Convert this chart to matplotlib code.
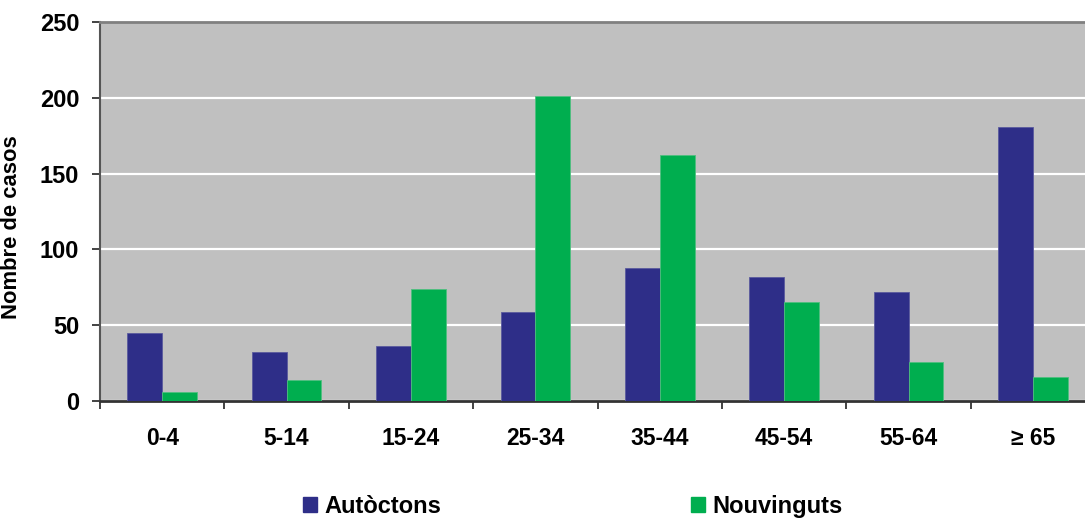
import numpy as np
import matplotlib.pyplot as plt
from matplotlib.patches import Patch

# Cases by age group
age_groups = ["0-4", "5-14", "15-24", "25-34", "35-44", "45-54", "55-64", "≥ 65"]
autoctons = [45, 32, 36, 59, 88, 82, 72, 181]
nouvinguts = [6, 14, 74, 201, 162, 65, 26, 16]

BLUE = "#2e2e88"
GREEN = "#00ae4f"
BG = "#c0c0c0"

plt.rcParams['font.family'] = ['Liberation Sans', 'DejaVu Sans']
plt.rcParams['font.weight'] = 'bold'

fig = plt.figure(figsize=(10.85, 5.19), dpi=100)
# axes runs slightly past the right edge of the figure
ax = fig.add_axes([0.0922, 0.2274, 0.9172, 0.7303])
ax.set_facecolor(BG)

x = np.arange(len(age_groups)) + 0.5
w = 0.28
ax.bar(x - w / 2, autoctons, width=w, color=BLUE, edgecolor="#5a5a9e", linewidth=0.6, zorder=3)
ax.bar(x + w / 2, nouvinguts, width=w, color=GREEN, edgecolor="#4fbf7f", linewidth=0.6, zorder=3)

ax.set_xlim(0, len(age_groups))
ax.set_ylim(0, 250)
ax.set_yticks([0, 50, 100, 150, 200, 250])
ax.yaxis.grid(True, color="white", linewidth=1.6, zorder=1)
ax.set_axisbelow(True)

# boundary ticks between groups, labels at group centres
ax.set_xticks(np.arange(0, len(age_groups) + 1))
ax.set_xticklabels([])
ax.set_xticks(x, minor=True)
ax.set_xticklabels(age_groups, minor=True)
ax.tick_params(axis='x', which='major', length=6, width=1.2, color="#222222")
ax.tick_params(axis='x', which='minor', length=0, pad=19, labelsize=16.5)
ax.tick_params(axis='y', length=6, width=1.2, color="#222222", pad=9, labelsize=17)

ax.spines['left'].set_color("#555555")
ax.spines['left'].set_linewidth(1.5)
ax.spines['bottom'].set_color("#333333")
ax.spines['bottom'].set_linewidth(2)
ax.spines['top'].set_color("#808080")
ax.spines['top'].set_linewidth(2)
ax.spines['right'].set_visible(False)

ax.set_ylabel("Nombre de casos", fontsize=15.8, fontweight='bold')
ax.yaxis.set_label_coords(-0.078, 0.458)

handles = [Patch(facecolor=BLUE, edgecolor=BLUE), Patch(facecolor=GREEN, edgecolor=GREEN)]
fig.legend(handles, ["Autòctons", "Nouvinguts"], loc='center', bbox_to_anchor=(0.528, 0.024),
           ncol=2, frameon=False, fontsize=17, handlelength=0.6, handleheight=0.6,
           handletextpad=0.3, columnspacing=10.6)

fig.savefig("out.png", dpi=100)
